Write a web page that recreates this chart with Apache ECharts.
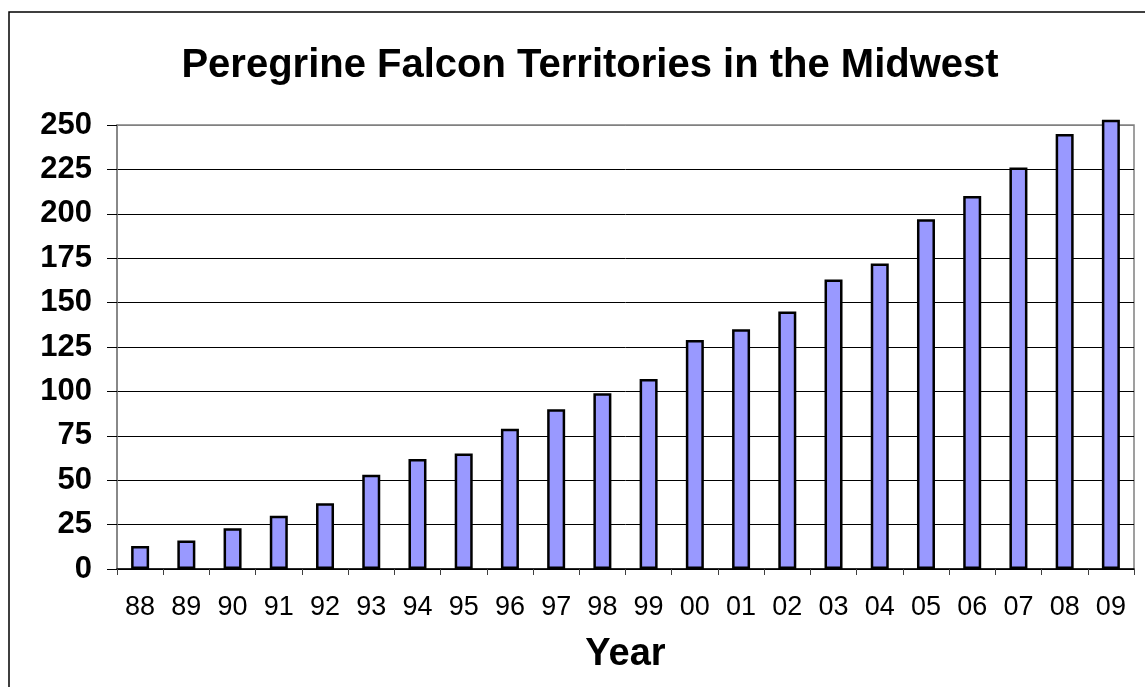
<!DOCTYPE html>
<html lang="en">
<head>
    <meta charset="UTF-8">
    <title>Peregrine Falcon Territories</title>
    <script src="https://cdn.jsdelivr.net/npm/echarts@6/dist/echarts.min.js"></script>
    <style>
        html, body { margin: 0; padding: 0; background: #fff; }
        #showDiv { width: 1145px; height: 687px; }
    </style>
</head>
<body>
<div id="showDiv"></div>
<script type="text/javascript">
	// years (two-digit labels) and territory counts
	var years = ['88', '89', '90', '91', '92', '93', '94', '95', '96', '97', '98',
	             '99', '00', '01', '02', '03', '04', '05', '06', '07', '08', '09'];
	var territories = [13, 16, 23, 30, 37, 53, 62, 65, 79, 90, 99,
	                   107, 129, 135, 145, 163, 172, 197, 210, 226, 245, 253];
	var yTicks = [0, 25, 50, 75, 100, 125, 150, 175, 200, 225, 250];

	var font = "'Liberation Sans', Arial, sans-serif";

	// gridline colours: top one is the plot border (grey)
	var gridColors = [];
	for (var i = 0; i < yTicks.length; i++) {
		gridColors.push(i == yTicks.length - 1 ? '#808080' : '#000');
	}

	var myChart = echarts.init(document.getElementById('showDiv'));
	var option = {
		backgroundColor: '#fff',
		animation: false,
		title: {
			text: 'Peregrine Falcon Territories in the Midwest',
			left: 585,
			top: 41,
			textAlign: 'center',
			textStyle: { fontFamily: font, fontSize: 40, fontWeight: 'bold', color: '#000' }
		},
		graphic: [{
			type: 'rect',
			shape: { x: 9, y: 12, width: 1160, height: 700 },
			style: { fill: null, stroke: '#000', lineWidth: 1.5 },
			silent: true
		}],
		grid: {
			left: 117, right: 11, top: 125, bottom: 118,
			outerBoundsMode: 'none',
			containLabel: false,
			show: true,
			borderColor: '#808080',
			borderWidth: 1.5
		},
		xAxis: {
			type: 'category',
			data: years,
			name: 'Year',
			nameLocation: 'middle',
			nameGap: 67,
			nameTextStyle: { fontFamily: font, fontSize: 38, fontWeight: 'bold', color: '#000' },
			axisLine: { lineStyle: { color: '#000', width: 1.5 } },
			axisTick: { show: true, length: 6, lineStyle: { color: '#404040' } },
			axisLabel: { fontFamily: font, fontSize: 27, color: '#000', margin: 25, interval: 0 }
		},
		yAxis: {
			type: 'value',
			min: 0,
			max: 250,
			interval: 25,
			axisLine: { show: true, lineStyle: { color: '#808080', width: 1.5 } },
			axisTick: { show: true, length: 10, lineStyle: { color: '#000' } },
			axisLabel: { fontFamily: font, fontSize: 31, fontWeight: 'bold', color: '#000', margin: 25 },
			splitLine: { show: true, lineStyle: { color: gridColors, width: 1 } }
		},
		series: [{
			type: 'bar',
			data: territories,
			barWidth: 18,
			clip: false,
			itemStyle: { color: '#9999FF', borderColor: '#000', borderWidth: 2.5 }
		}]
	};
	myChart.setOption(option);
</script>
</body>
</html>
